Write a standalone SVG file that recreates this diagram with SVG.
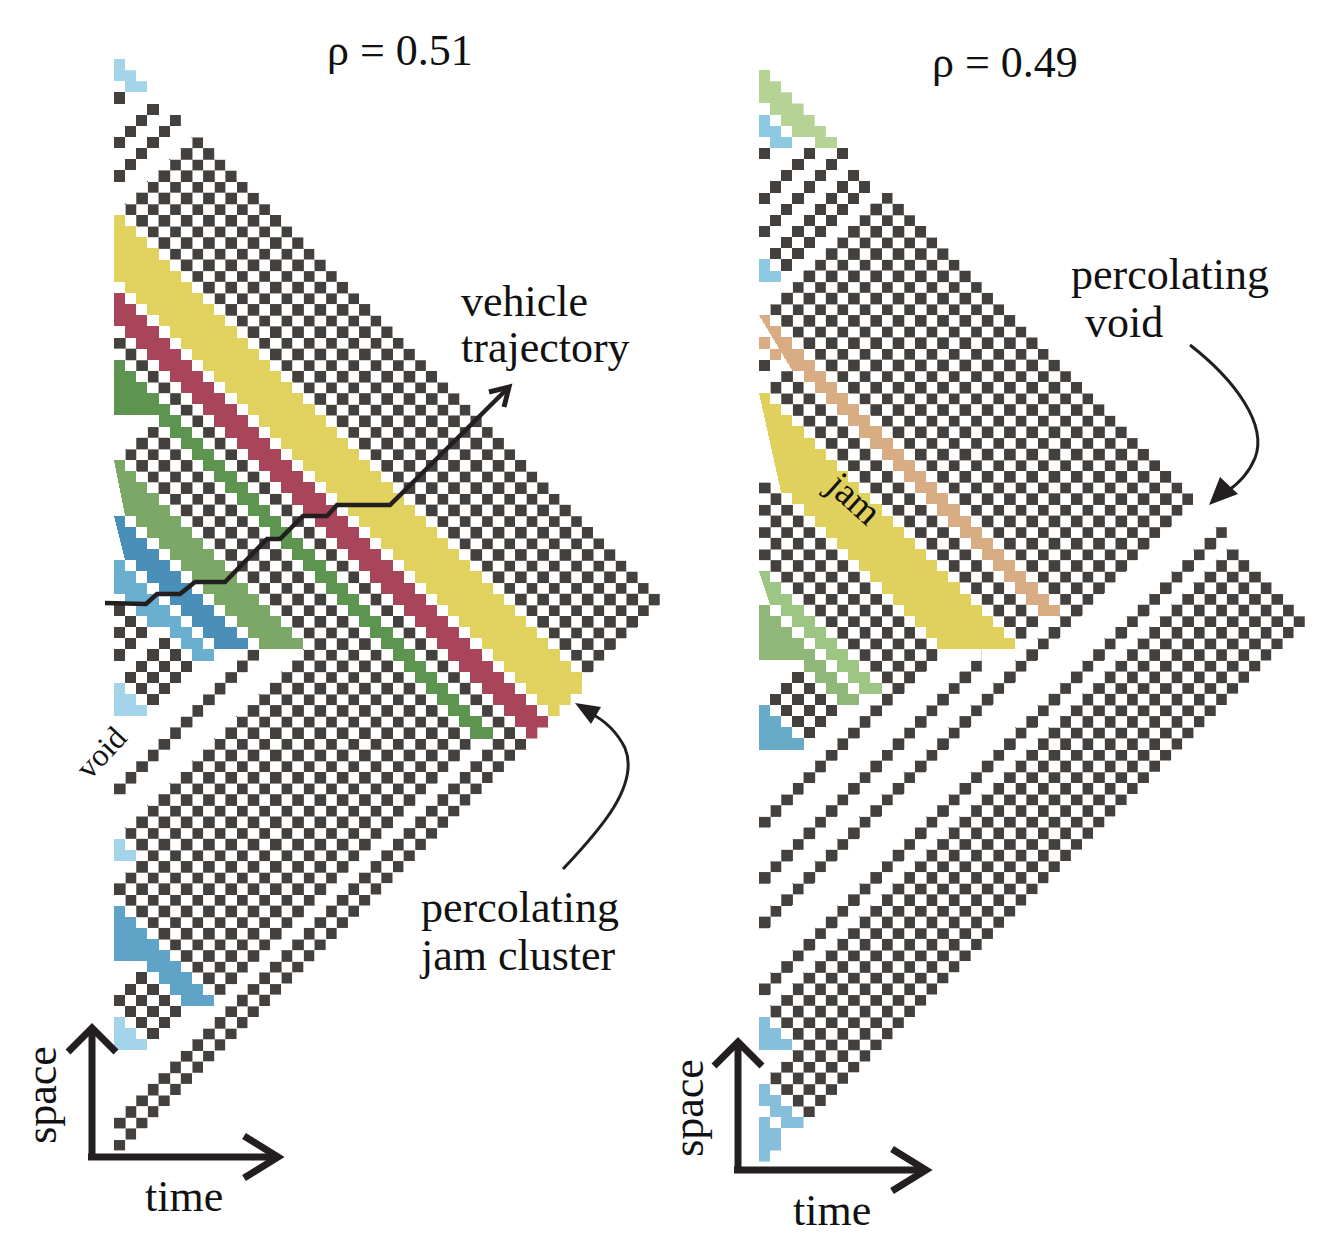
<svg xmlns="http://www.w3.org/2000/svg" xmlns:xlink="http://www.w3.org/1999/xlink" width="1329" height="1258" viewBox="0 0 1329 1258">
<style>
.t{font-family:"Liberation Serif","Times New Roman",serif;font-size:44px;fill:#111}
.ax{fill:none;stroke:#231f20;stroke-width:7;stroke-linecap:butt;stroke-linejoin:miter}
.ar{fill:none;stroke:#231f20;stroke-width:3}
.d{fill:#43403d}
.grid,.grid *,pattern rect,.cp{shape-rendering:crispEdges}
</style>
<defs>
<pattern id="pE" patternUnits="userSpaceOnUse" width="2" height="2"><rect width="1" height="1" fill="#43403d"/><rect x="1" y="1" width="1" height="1" fill="#43403d"/></pattern>
<pattern id="pO" patternUnits="userSpaceOnUse" width="2" height="2"><rect x="1" width="1" height="1" fill="#43403d"/><rect y="1" width="1" height="1" fill="#43403d"/></pattern>
<clipPath id="cone" clipPathUnits="userSpaceOnUse"><path class="cp" d="M0 0 h1v1h1v1h1v1h1v1h1v1h1v1h1v1h1v1 h1v1h1v1h1v1h1v1h1v1h1v1h1v1h1v1 h1v1h1v1h1v1h1v1h1v1h1v1h1v1h1v1 h1v1h1v1h1v1h1v1h1v1h1v1h1v1h1v1 h1v1h1v1h1v1h1v1h1v1h1v1h1v1h1v1 h1v1h1v1h1v1h1v1h1v1h1v1h1v1h1v1 h1v2h-1 v1h-1v1h-1v1h-1v1h-1v1h-1v1h-1v1h-1v1h-1 v1h-1v1h-1v1h-1v1h-1v1h-1v1h-1v1h-1v1h-1 v1h-1v1h-1v1h-1v1h-1v1h-1v1h-1v1h-1v1h-1 v1h-1v1h-1v1h-1v1h-1v1h-1v1h-1v1h-1v1h-1 v1h-1v1h-1v1h-1v1h-1v1h-1v1h-1v1h-1v1h-1 v1h-1v1h-1v1h-1v1h-1v1h-1v1h-1v1h-1v1h-1 Z"/></clipPath>
<path id="b6" d="M0 0 h1v1h1v1h1v1h1v1h1v1h1v1h1v1h1v1 h1v1h1v1h1v1h1v1h1v1h1v1h1v1h1v1 h1v1h1v1h1v1h1v1h1v1h1v1h1v1h1v1 h1v1h1v1h1v1h1v1h1v1h1v1h1v1h1v1 h1v1h1v1h1v1h1v1h1v1h1v1h1v1h1v1 h1v1h1v1h1v1h1v1h1v1h1v1h1v1h1v1 v5 h-1v-1h-1v-1h-1v-1h-1v-1h-1v-1h-1v-1h-1v-1h-1v-1 h-1v-1h-1v-1h-1v-1h-1v-1h-1v-1h-1v-1h-1v-1h-1v-1 h-1v-1h-1v-1h-1v-1h-1v-1h-1v-1h-1v-1h-1v-1h-1v-1 h-1v-1h-1v-1h-1v-1h-1v-1h-1v-1h-1v-1h-1v-1h-1v-1 h-1v-1h-1v-1h-1v-1h-1v-1h-1v-1h-1v-1h-1v-1h-1v-1 h-1v-1h-1v-1h-1v-1h-1v-1h-1v-1h-1v-1h-1v-1h-1v-1 Z"/>
<path id="b3" d="M0 0 h1v1h1v1h1v1h1v1h1v1h1v1h1v1h1v1 h1v1h1v1h1v1h1v1h1v1h1v1h1v1h1v1 h1v1h1v1h1v1h1v1h1v1h1v1h1v1h1v1 h1v1h1v1h1v1h1v1h1v1h1v1h1v1h1v1 h1v1h1v1h1v1h1v1h1v1h1v1h1v1h1v1 h1v1h1v1h1v1h1v1h1v1h1v1h1v1h1v1 v2 h-1v-1h-1v-1h-1v-1h-1v-1h-1v-1h-1v-1h-1v-1h-1v-1 h-1v-1h-1v-1h-1v-1h-1v-1h-1v-1h-1v-1h-1v-1h-1v-1 h-1v-1h-1v-1h-1v-1h-1v-1h-1v-1h-1v-1h-1v-1h-1v-1 h-1v-1h-1v-1h-1v-1h-1v-1h-1v-1h-1v-1h-1v-1h-1v-1 h-1v-1h-1v-1h-1v-1h-1v-1h-1v-1h-1v-1h-1v-1h-1v-1 h-1v-1h-1v-1h-1v-1h-1v-1h-1v-1h-1v-1h-1v-1h-1v-1 Z"/>
</defs>
<rect width="1329" height="1258" fill="#fff"/>

<g id="panel-left" class="grid" transform="translate(114,59) scale(11.14)" clip-path="url(#cone)">
<path fill="url(#pE)" d="M0.5 13.5L7.5 6.5L49.5 48.5L42.5 55.5Z"/>
<path fill="url(#pE)" d="M3.5 32.5L0.5 35.5L17.5 52.5L0.5 69.5L2.5 71.5L0 74V75L9.5 84.5L32.5 61.5Z"/>
<path fill="url(#pO)" d="M0 24L37 61V63L0 26Z"/>
<path fill="url(#pO)" d="M0 65L13 52V54L0 67Z"/>
<path fill="url(#pO)" d="M0 95L36 59V61L37 60V62L0 99Z"/>
<path class="d" d="M0 3h1v1h-1zM0 7h1v1h-1zM1 6h1v1h-1zM2 5h1v1h-1zM3 4h1v1h-1zM0 10h1v1h-1zM1 9h1v1h-1zM2 8h1v1h-1zM3 7h1v1h-1zM4 6h1v1h-1zM5 5h1v1h-1z"/>
<path class="d" d="M0 49h1v1h-1zM0 51h1v1h-1zM1 50h1v1h-1zM0 53h1v1h-1zM1 52h1v1h-1zM2 51h1v1h-1zM1 55h1v1h-1zM2 54h1v1h-1zM3 53h1v1h-1zM4 52h1v1h-1zM2 56h1v1h-1zM3 55h1v1h-1zM4 54h1v1h-1zM5 53h1v1h-1zM3 57h1v1h-1zM4 56h1v1h-1zM5 55h1v1h-1zM6 54h1v1h-1z"/>
<path class="d" d="M0 84h1v1h-1zM1 83h1v1h-1zM2 82h1v1h-1zM1 85h1v1h-1zM2 84h1v1h-1zM3 83h1v1h-1zM2 86h1v1h-1zM3 85h1v1h-1zM4 84h1v1h-1zM3 87h1v1h-1zM4 86h1v1h-1zM5 85h1v1h-1z"/>
<use xlink:href="#b6" x="0" y="14" fill="#e1d15f"/>
<use xlink:href="#b3" x="0" y="21" fill="#a9455b"/>
<g fill="#5d9450">
<path d="M0 27 h1v1h1v1h1v1h1v1h1v1h1v1h1v1h1v1 h1v1h1v1h1v1h1v1h1v1h1v1h1v1h1v1 h1v1h1v1h1v1h1v1h1v1h1v1h1v1h1v1 h1v1h1v1h1v1h1v1h1v1h1v1h1v1h1v1 h1v1h1v1 h-1 h-1v-1h-1v-1h-1v-1h-1v-1h-1v-1h-1v-1h-1v-1h-1v-1 h-1v-1h-1v-1h-1v-1h-1v-1h-1v-1h-1v-1h-1v-1h-1v-1 h-1v-1h-1v-1h-1v-1h-1v-1h-1v-1h-1v-1h-1v-1h-1v-1 h-1v-1h-1v-1h-1v-1h-1v-1h-1v-1h-1v-1h-1v-1h-1v-1 h-1v-1 Z"/>
<path d="M0 27h1v1h1v1h1v1h1v1h1v1H0Z"/>
</g>
<path fill="#7ba866" d="M0 36 h1v1h1v1h1v1h1v1h1v1h1v1h1v1h1v1 h1v1h1v1h1v1h1v1h1v1h1v1h1v1h1v1 h1v1 H13 v-1h-1v-1h-1v-1h-1v-1h-1v-1h-1v-1h-1v-1h-1 v-1h-1v-1h-1v-1h-1v-1h-1v-1h-1 Z"/>
<path fill="#4a8fb7" d="M0 41 h1v1h1v1h1v1h1v1h1v1h1v1h1v1h1v1 h1v1h1v1h1v1h1v1 H9 v-1h-1v-1h-1v-1h-1v-1h-1v-1h-1v-1h-1v-1h-1 v-1h-1 Z"/>
<path fill="#6aaed0" d="M0 45 h1v1h1v1h1v1h1v1h1v1h1v1h1v1h1v1 h1v1 H7v-1h-1v-1h-1v-1h-1h-1v-1h-1v-1h-1v-1h-1Z"/>
<path fill="#5fa3c6" d="M0 76 h1v1h1v1h1v1h1v1h1v1h1v1h1v1h1v1 h1v1 H6v-1h-1v-1h-1v-1h-1v-1H0Z"/>
<g fill="#a3d4ea">
<path d="M0 0h1v1h1v1h1v1h-2v-1h-1Z"/>
<path d="M0 56h1v1h1v1h1v1H0Z"/>
<path d="M0 70h1v1h1v1H0Z"/>
<path d="M0 86h1v1h1v1h1v1H0Z"/>
</g>
</g>

<g id="panel-right" class="grid" transform="translate(759,70) scale(11.14)" clip-path="url(#cone)">
<path fill="url(#pE)" d="M0.5 21.5L23 -1H77L27.5 48.5Z"/>
<path fill="url(#pO)" d="M2.5 26.5L0.5 28.5L23.5 51.5L25.5 49.5Z"/>
<path fill="url(#pO)" d="M0.5 36.5L0 37V44L12.5 56.5L16.5 52.5Z"/>
<path fill="url(#pO)" d="M0 67L16 51V53L0 69Z"/>
<path fill="url(#pE)" d="M0 72L20 52V54L0 74Z"/>
<path fill="url(#pE)" d="M0 76L39 37V39L0 78Z"/>
<path fill="url(#pE)" d="M0 82L42 40V42L0 84Z"/>
<path fill="url(#pO)" d="M42.5 42.5L0.5 84.5L3.5 87.5L0.5 90.5L4.5 94.5L49.5 49.5Z"/>
<path class="d" d="M0 7h1v1h-1zM0 11h1v1h-1zM1 10h1v1h-1zM2 9h1v1h-1zM3 8h1v1h-1zM4 7h1v1h-1zM0 14h1v1h-1zM1 13h1v1h-1zM2 12h1v1h-1zM3 11h1v1h-1zM4 10h1v1h-1zM5 9h1v1h-1zM6 8h1v1h-1zM7 7h1v1h-1zM1 16h1v1h-1zM2 15h1v1h-1zM3 14h1v1h-1zM4 13h1v1h-1zM5 12h1v1h-1zM6 11h1v1h-1zM7 10h1v1h-1zM8 9h1v1h-1zM2 17h1v1h-1zM3 16h1v1h-1zM4 15h1v1h-1zM5 14h1v1h-1zM6 13h1v1h-1zM7 12h1v1h-1zM8 11h1v1h-1zM9 10h1v1h-1zM0 26h1v1h-1z"/>
<path class="d" d="M1 56h1v1h-1zM2 55h1v1h-1zM3 54h1v1h-1zM2 57h1v1h-1zM3 56h1v1h-1zM4 55h1v1h-1zM3 58h1v1h-1zM4 57h1v1h-1zM5 56h1v1h-1zM4 59h1v1h-1zM5 58h1v1h-1zM6 57h1v1h-1z"/>
<path fill="#b5d395" d="M0 0h1v1h1v1h1v1h1v1h1v1h1v1h1v1H5v-1H3v-1h-1v-1h-1v-1h-1Z"/>
<g fill="#8ec9e2">
<path d="M0 4h1v1h1v1h1v1h-2v-1h-1Z"/>
<path d="M0 17h1v1h1v1H0Z"/>
</g>
<path fill="#d9ad84" d="M0 22 h1v1h1v1h1v1h1v1h1v1h1v1h1v1h1v1 h1v1h1v1h1v1h1v1h1v1h1v1h1v1h1v1 h1v1h1v1h1v1h1v1h1v1h1v1h1v1h1v1 h1v1h1v1h1v1 h-2 v-1h-1v-1h-1v-1h-1v-1h-1v-1h-1v-1h-1v-1h-1 v-1h-1v-1h-1v-1h-1v-1h-1v-1h-1v-1h-1v-1h-1 v-1h-1v-1h-1v-1h-1v-1h-1v-1h-1v-1h-1v-1h-1 v-1h-1 Z M0 24h1v1h1v1h-1v-1h-1Z"/>
<path fill="#e0d05e" d="M0 29 h1v1h1v1h1v1h1v1h1v1h1v1h1v1h1v1 h1v1h1v1h1v1h1v1h1v1h1v1h1v1h1v1 h1v1h1v1h1v1h1v1h1v1h1v1h1v1 H16 v-1h-1v-1h-1v-1h-1v-1h-1v-1h-1v-1h-1v-1h-1 v-1h-1v-1h-1v-1h-1v-1h-1v-1h-1v-1h-1v-1h-1 Z"/>
<path fill="#9dc584" d="M0 45 h1v1h1v1h1v1h1v1h1v1h1v1h1v1h1v1 h1v1h1v1h1v1 H9 v-1h-1v-1h-1v-1h-1v-1h-1v-1h-1v-1h-1v-1h-1 v-1h-1 Z"/>
<path fill="#8fb878" d="M0 48 h1v1h1v1h1v1h1v1h1v1h1v1h1v1h1v1 h1v1 H7v-1h-1v-1h-1v-1h-1v-1H0Z"/>
<path fill="#68abc9" d="M0 57h1v1h1v1h1v1h1v1H0Z"/>
<g fill="#85bfdb">
<path d="M0 85h1v1h1v1h1v1H0Z"/>
<path d="M0 91h1v1h1v1h1v1h1v1h-2v-1h-1v-1h-1Z"/>
<path d="M0 94h1v1h1v2h-1v1h-1Z"/>
</g>
</g>

<g id="connectors">
<polyline fill="none" stroke="#231f20" stroke-width="4.5" stroke-linejoin="miter" points="105,603 146,604 157,594 180,594 195,582 225,582 267,539 280,539 303,516 327,516 337,505 390,505 507,389"/>
<polyline fill="none" stroke="#231f20" stroke-width="5" points="489,392 509,387 504,407"/>
<path class="ar" d="M563,869 C600,830 640,785 625,748 C615,728 600,718 590,713"/>
<polygon fill="#231f20" points="575,703 601,707 591,724"/>
<path class="ar" d="M1190,345 C1235,380 1268,425 1255,458 C1248,475 1237,485 1226,492"/>
<polygon fill="#231f20" points="1209,505 1220,477 1238,494"/>
</g>

<g id="axes-left">
<polyline class="ax" points="92,1160 92,1030"/>
<polyline class="ax" points="68,1052 92,1028 116,1052"/>
<polyline class="ax" points="88,1157 278,1157"/>
<polyline class="ax" points="244,1136 278,1157 244,1178"/>
</g>
<g id="axes-right">
<polyline class="ax" points="738,1173 738,1045"/>
<polyline class="ax" points="714,1066 738,1042 762,1066"/>
<polyline class="ax" points="734,1170 926,1170"/>
<polyline class="ax" points="892,1149 926,1170 892,1191"/>
</g>

<g id="labels">
<text class="t" x="327" y="65">ρ = 0.51</text>
<text class="t" x="932" y="77">ρ = 0.49</text>
<text class="t" x="461" y="316">vehicle</text>
<text class="t" x="461" y="362">trajectory</text>
<text class="t" x="421" y="922">percolating</text>
<text class="t" x="421" y="970">jam cluster</text>
<text class="t" x="1071" y="289">percolating</text>
<text class="t" x="1085" y="337">void</text>
<text class="t" x="145" y="1211">time</text>
<text class="t" x="793" y="1225">time</text>
<text class="t" text-anchor="middle" transform="translate(56,1095) rotate(-90)">space</text>
<text class="t" text-anchor="middle" transform="translate(703,1108) rotate(-90)">space</text>
<text class="t" style="font-size:32px" text-anchor="middle" transform="translate(109,760) rotate(-47)">void</text>
<text class="t" style="font-size:38px" text-anchor="middle" transform="translate(846,508) rotate(42)">jam</text>
</g>
</svg>
